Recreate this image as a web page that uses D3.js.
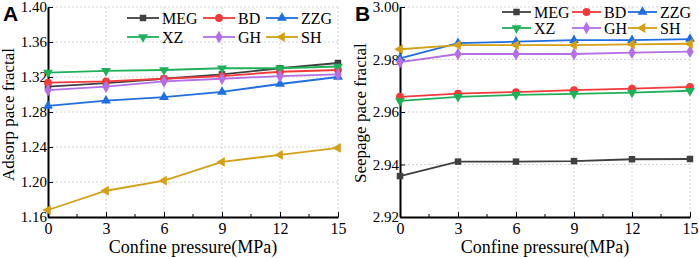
<!DOCTYPE html>
<html>
<head>
<meta charset="utf-8">
<script src="https://cdn.jsdelivr.net/npm/d3@7"></script>
<style>
  body { margin: 0; background: #fff; }
</style>
</head>
<body>
<div id="grafico"></div>
<script>
// Dados
const pressure = [0, 3, 6, 9, 12, 15];
const series   = ["MEG", "BD", "ZZG", "XZ", "GH", "SH"];
const colors   = ["#404040", "#f23a3a", "#1f6fe0", "#20b05a", "#b46fe6", "#d4a017"];
const symbols  = ["square", "circle", "up", "down", "diamond", "left"];

// Painel A - Adsorp pace fractal
const adsMEG = [1.309, 1.313, 1.318, 1.323, 1.330, 1.336];
const adsBD  = [1.3135, 1.315, 1.318, 1.321, 1.326, 1.328];
const adsZZG = [1.287, 1.293, 1.297, 1.303, 1.312, 1.320];
const adsXZ  = [1.325, 1.327, 1.328, 1.330, 1.330, 1.332];
const adsGH  = [1.305, 1.309, 1.315, 1.318, 1.321, 1.323];
const adsSH  = [1.168, 1.190, 1.2015, 1.223, 1.231, 1.239];
const adsTicks = [1.16, 1.20, 1.24, 1.28, 1.32, 1.36, 1.40];

// Painel B - Seepage pace fractal
const seeMEG = [2.9356, 2.9411, 2.9411, 2.9413, 2.9420, 2.9421];
const seeBD  = [2.9658, 2.9670, 2.9676, 2.9683, 2.9689, 2.9696];
const seeZZG = [2.9804, 2.9862, 2.9868, 2.9874, 2.9874, 2.9878];
const seeXZ  = [2.9642, 2.9658, 2.9665, 2.9669, 2.9674, 2.9681];
const seeGH  = [2.9790, 2.9821, 2.9821, 2.9821, 2.9826, 2.9830];
const seeSH  = [2.9839, 2.9855, 2.9855, 2.9855, 2.9858, 2.9860];
const seeTicks = [2.92, 2.94, 2.96, 2.98, 3.00];

const W = 699, H = 258;
const SERIF = "'Liberation Serif'";
const SANS  = "'Liberation Sans'";

const svg = d3.select("#grafico")
              .append("svg")
              .attr("width", W)
              .attr("height", H);

// desenha um simbolo no ponto (cx, cy)
function marker(g, sym, color, cx, cy) {
    let shape = d3.symbolSquare, size = 42, rot = 0;
    if (sym === "circle")  { shape = d3.symbolCircle; size = 48; }
    if (sym === "diamond") { shape = d3.symbolDiamond; size = 46; }
    if (sym === "up")      { shape = d3.symbolTriangle; size = 42; }
    if (sym === "down")    { shape = d3.symbolTriangle; size = 42; rot = 180; }
    if (sym === "left")    { shape = d3.symbolTriangle; size = 42; rot = -90; }
    g.append("path")
     .attr("d", d3.symbol(shape, size)())
     .attr("transform", `translate(${cx}, ${cy}) rotate(${rot})`)
     .attr("fill", color);
}

function panel(opt) {
    const x = d3.scaleLinear().domain([0, 15]).range([opt.x0, opt.x1]);
    const y = d3.scaleLinear().domain(opt.domain).range([217, 7]);

    const g = svg.append("g");

    // grade tracejada
    g.selectAll(".gx")
     .data(pressure.slice(1))
     .enter()
     .append("line")
     .attr("x1", d => x(d)).attr("x2", d => x(d))
     .attr("y1", y.range()[0]).attr("y2", y.range()[1])
     .attr("stroke", "#d4d4d4")
     .attr("stroke-dasharray", "2,2");

    g.selectAll(".gy")
     .data(opt.ticks.slice(1))
     .enter()
     .append("line")
     .attr("x1", opt.x0).attr("x2", opt.x1)
     .attr("y1", d => y(d)).attr("y2", d => y(d))
     .attr("stroke", "#d4d4d4")
     .attr("stroke-dasharray", "2,2");

    // eixo x
    const xAxisCall = d3.axisBottom(x)
                        .tickValues(pressure)
                        .tickSizeInner(-5)
                        .tickSizeOuter(0)
                        .tickPadding(6);
    const gx = g.append("g")
                .attr("transform", `translate(0, ${y.range()[0]})`)
                .call(xAxisCall);
    gx.select(".domain").attr("stroke", "#000").attr("stroke-width", 2);
    gx.selectAll("text").attr("font-size", "16px").style("font-family", SERIF).attr("fill", "#000");

    // ticks menores x
    g.selectAll(".mx")
     .data(d3.range(1.5, 15, 3))
     .enter()
     .append("line")
     .attr("x1", d => x(d)).attr("x2", d => x(d))
     .attr("y1", y.range()[0]).attr("y2", y.range()[0] - 3)
     .attr("stroke", "#000");

    // eixo y
    const yAxisCall = d3.axisLeft(y)
                        .tickValues(opt.ticks)
                        .tickFormat(d3.format(".2f"))
                        .tickSizeInner(-5)
                        .tickSizeOuter(0)
                        .tickPadding(1);
    const gy = g.append("g")
                .attr("transform", `translate(${opt.x0}, 0)`)
                .call(yAxisCall);
    gy.select(".domain").attr("stroke", "#000").attr("stroke-width", 2);
    gy.selectAll("text").attr("font-size", "15px").style("font-family", SERIF).attr("fill", "#000");

    // label eixo x
    g.append("text")
     .attr("x", (opt.x0 + opt.x1) / 2)
     .attr("y", 253)
     .attr("font-size", "18px")
     .style("font-family", SERIF)
     .attr("text-anchor", "middle")
     .text("Confine pressure(MPa)");

    // label eixo y
    g.append("text")
     .attr("transform", `translate(${opt.x0 - 34}, ${opt.ylabY}) rotate(-90)`)
     .attr("font-size", "17px")
     .style("font-family", SERIF)
     .attr("text-anchor", "start")
     .text(opt.ylabel);

    // letra do painel
    g.append("text")
     .attr("x", opt.x0 - 45)
     .attr("y", 21)
     .attr("font-weight", "bold")
     .attr("font-size", "21px")
     .style("font-family", SANS)
     .text(opt.letter);

    // linhas
    const line = d3.line().x((d, i) => x(pressure[i])).y(d => y(d));
    opt.data.forEach((vals, k) => {
        g.append("path")
         .datum(vals)
         .attr("d", line)
         .attr("fill", "none")
         .attr("stroke", colors[k])
         .attr("stroke-width", 1.8);
        vals.forEach((v, i) => marker(g, symbols[k], colors[k], x(pressure[i]), y(v)));
    });

    // legenda
    series.forEach((s, k) => {
        const col = k % 3, row = Math.floor(k / 3);
        const lx = opt.legX[col], ly = opt.legY[row];
        g.append("line")
         .attr("x1", lx).attr("x2", lx + opt.legLen)
         .attr("y1", ly).attr("y2", ly)
         .attr("stroke", colors[k])
         .attr("stroke-width", 1.8);
        marker(g, symbols[k], colors[k], lx + opt.legLen / 2, ly);
        g.append("text")
         .attr("x", lx + opt.legLen + 3)
         .attr("y", ly + 5.5)
         .attr("font-size", "16px")
         .style("font-family", SERIF)
         .text(s);
    });
}

panel({
    x0: 48, x1: 338,
    domain: [1.16, 1.40],
    ticks: adsTicks,
    ylabel: "Adsorp pace fractal",
    ylabY: 181,
    letter: "A",
    data: [adsMEG, adsBD, adsZZG, adsXZ, adsGH, adsSH],
    legX: [127, 203, 266], legY: [18, 37], legLen: 32
});

panel({
    x0: 400, x1: 690,
    domain: [2.92, 3.00],
    ticks: seeTicks,
    ylabel: "Seepage pace fractal",
    ylabY: 183,
    letter: "B",
    data: [seeMEG, seeBD, seeZZG, seeXZ, seeGH, seeSH],
    legX: [502, 572, 628], legY: [12, 28], legLen: 29
});
</script>
</body>
</html>
